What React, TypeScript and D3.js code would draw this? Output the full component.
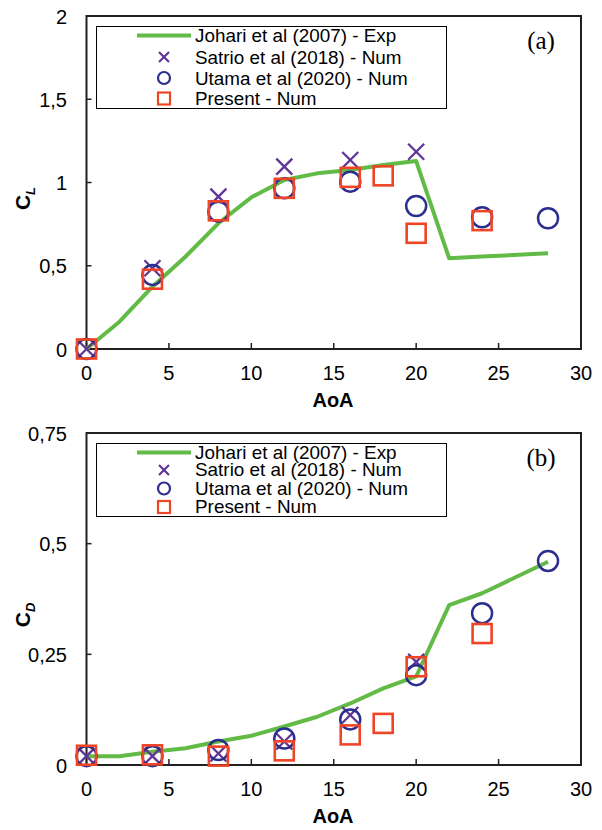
import React from "react";
import * as d3 from "d3";

// ---- Data ----
const johariAoA = [0, 2, 4, 6, 8, 10, 12, 14, 16, 18, 20, 22, 24, 28];
const johariCL = [0, 0.164, 0.374, 0.554, 0.755, 0.911, 1.015, 1.055, 1.075, 1.105, 1.129, 0.545, 0.555, 0.575];
const johariCD = [0.02, 0.02, 0.03, 0.038, 0.053, 0.066, 0.087, 0.109, 0.139, 0.173, 0.2, 0.361, 0.388, 0.459];

const satrioAoA = [0, 4, 8, 12, 16, 20];
const satrioCL = [0, 0.485, 0.915, 1.095, 1.135, 1.185];
const satrioCD = [0.02, 0.02, 0.026, 0.053, 0.113, 0.233];

const utamaAoA = [0, 4, 8, 12, 16, 20, 24, 28];
const utamaCL = [0, 0.445, 0.825, 0.965, 1.005, 0.859, 0.791, 0.785];
const utamaCD = [0.02, 0.02, 0.034, 0.06, 0.103, 0.203, 0.343, 0.461];

const presentAoA = [0, 4, 8, 12, 16, 18, 20, 24];
const presentCL = [0, 0.419, 0.83, 0.965, 1.031, 1.04, 0.695, 0.771];
const presentCD = [0.022, 0.023, 0.02, 0.032, 0.068, 0.094, 0.222, 0.297];

const xTicks = [0, 5, 10, 15, 20, 25, 30];
const clTicks = [0, 0.5, 1, 1.5, 2];
const clTickLabels = ["0", "0,5", "1", "1,5", "2"];
const cdTicks = [0, 0.25, 0.5, 0.75];
const cdTickLabels = ["0", "0,25", "0,5", "0,75"];

const legendLabels = [
  "Johari et al (2007) - Exp",
  "Satrio et al (2018) - Num",
  "Utama et al (2020) - Num",
  "Present - Num",
];

// ---- Styles ----
const GREEN = "#62bb46";
const PURPLE = "#5f3596";
const NAVY = "#2b2e8e";
const RED = "#ef4526";
const AXIS = "#231f20";
const FONT = "'Liberation Sans', Arial, sans-serif";

const zip = (xs: number[], ys: number[]) => xs.map((x, i) => [x, ys[i]] as [number, number]);

function XMark({ cx, cy, s, sw }: { cx: number; cy: number; s: number; sw: number }) {
  return (
    <g stroke={PURPLE} strokeWidth={sw} fill="none">
      <line x1={cx - s} y1={cy - s} x2={cx + s} y2={cy + s} />
      <line x1={cx - s} y1={cy + s} x2={cx + s} y2={cy - s} />
    </g>
  );
}

function Panel(props: {
  top: number;
  bottom: number;
  yMax: number;
  yTicks: number[];
  yTickLabels: string[];
  cl: number[];
  sat: number[];
  uta: number[];
  pre: number[];
  sub: string;
  tag: string;
  legendTop: number;
  legendBottom: number;
  rowYs: number[];
  legendFont: number;
  legendScale: number;
}) {
  const left = 86.5;
  const right = 581;
  const x = d3.scaleLinear().domain([0, 30]).range([left, right]);
  const y = d3.scaleLinear().domain([0, props.yMax]).range([props.bottom, props.top]);
  const line = d3
    .line<[number, number]>()
    .x((d) => x(d[0]))
    .y((d) => y(d[1]));
  const sq = 9.5;
  return (
    <g>
      {/* ticks */}
      {xTicks.map((t) => (
        <g key={"xt" + t}>
          <line x1={x(t)} x2={x(t)} y1={props.bottom} y2={props.bottom - 6} stroke={AXIS} strokeWidth={1.5} />
          <text x={x(t)} y={props.bottom + 31} textAnchor="middle" fontSize={20} fontFamily={FONT} fill="#000">
            {t}
          </text>
        </g>
      ))}
      {props.yTicks.map((t, i) => (
        <g key={"yt" + t}>
          <line x1={left} x2={left + 5} y1={y(t)} y2={y(t)} stroke={AXIS} strokeWidth={1.5} />
          <text x={67} y={y(t) + 7.5} textAnchor="end" fontSize={20} fontFamily={FONT} fill="#000">
            {props.yTickLabels[i]}
          </text>
        </g>
      ))}
      {/* frame */}
      <rect x={left} y={props.top} width={right - left} height={props.bottom - props.top} fill="none" stroke={AXIS} strokeWidth={2} />
      {/* axis titles */}
      <text x={333} y={props.bottom + 58} textAnchor="middle" fontSize={20} fontWeight="bold" fontFamily={FONT}>
        AoA
      </text>
      <text
        transform={`translate(30, ${(props.top + props.bottom) / 2 + 16}) rotate(-90)`}
        textAnchor="middle"
        fontSize={21}
        fontWeight="bold"
        fontFamily={FONT}
      >
        C
        <tspan fontSize={13} fontStyle="italic" dy={5}>
          {props.sub}
        </tspan>
      </text>
      <text x={541} y={props.top + 33} textAnchor="middle" fontSize={25} fontFamily="'Liberation Serif', 'DejaVu Serif', serif">
        {props.tag}
      </text>
      {/* legend */}
      <rect x={96.5} y={props.legendTop} width={350} height={props.legendBottom - props.legendTop} fill="#fff" stroke="#000" strokeWidth={1} />
      <line x1={137} x2={191} y1={props.rowYs[0]} y2={props.rowYs[0]} stroke={GREEN} strokeWidth={4} />
      <XMark cx={164} cy={props.rowYs[1]} s={5} sw={2.2} />
      <circle cx={164} cy={props.rowYs[2]} r={6} fill="none" stroke={NAVY} strokeWidth={2.2} />
      <rect x={158} y={props.rowYs[3] - 6} width={12} height={12} fill="none" stroke={RED} strokeWidth={2.2} />
      {legendLabels.map((l, i) => (
        <text
          key={l}
          transform={`translate(195, ${props.rowYs[i] + props.legendFont * 0.36}) scale(${props.legendScale}, 1)`}
          fontSize={props.legendFont}
          fontFamily={FONT}
        >
          {l}
        </text>
      ))}
      {/* data */}
      <path d={line(zip(johariAoA, props.cl)) || ""} fill="none" stroke={GREEN} strokeWidth={4} strokeLinejoin="round" />
      {zip(satrioAoA, props.sat).map(([a, v], i) => (
        <XMark key={"s" + i} cx={x(a)} cy={y(v)} s={8} sw={2.3} />
      ))}
      {zip(utamaAoA, props.uta).map(([a, v], i) => (
        <circle key={"u" + i} cx={x(a)} cy={y(v)} r={10} fill="none" stroke={NAVY} strokeWidth={2.5} />
      ))}
      {zip(presentAoA, props.pre).map(([a, v], i) => (
        <rect key={"p" + i} x={x(a) - sq} y={y(v) - sq} width={sq * 2} height={sq * 2} fill="none" stroke={RED} strokeWidth={2.6} />
      ))}
    </g>
  );
}

export default function App() {
  return (
    <svg width={602} height={830} style={{ position: "absolute", left: 0, top: 0, background: "#fff" }}>
      <rect width={602} height={830} fill="#fff" />
      <Panel
        top={16}
        bottom={349}
        yMax={2}
        yTicks={clTicks}
        yTickLabels={clTickLabels}
        cl={johariCL}
        sat={satrioCL}
        uta={utamaCL}
        pre={presentCL}
        sub="L"
        tag="(a)"
        legendTop={26.5}
        legendBottom={108.5}
        rowYs={[35.5, 57, 78, 98.5]}
        legendFont={18.5}
        legendScale={1.02}
      />
      <Panel
        top={433}
        bottom={765}
        yMax={0.75}
        yTicks={cdTicks}
        yTickLabels={cdTickLabels}
        cl={johariCD}
        sat={satrioCD}
        uta={utamaCD}
        pre={presentCD}
        sub="D"
        tag="(b)"
        legendTop={443.5}
        legendBottom={516.5}
        rowYs={[452.5, 470, 488.5, 507]}
        legendFont={17.5}
        legendScale={1.08}
      />
    </svg>
  );
}
